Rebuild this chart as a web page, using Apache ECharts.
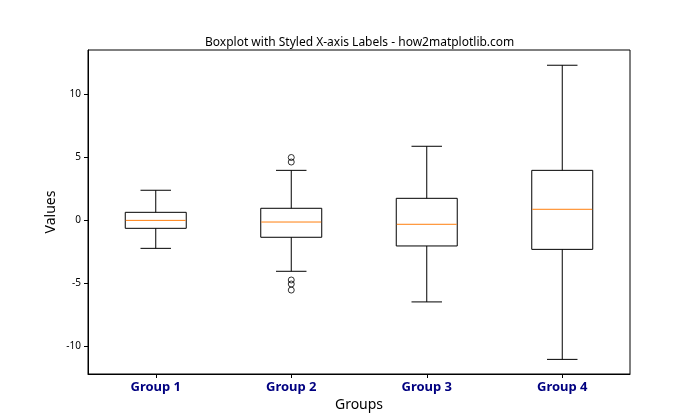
<!DOCTYPE html>
<html>
<head>
<meta charset="utf-8">
<script src="https://cdn.jsdelivr.net/npm/echarts@6/dist/echarts.min.js"></script>
<style>html,body{margin:0;padding:0;background:#fff}#c{width:700px;height:420px}</style>
</head>
<body>
<div id="c"></div>
<script>
var categories = ['Group 1', 'Group 2', 'Group 3', 'Group 4'];
// [whiskerLow, Q1, median, Q3, whiskerHigh]
var boxStats = [
  [-2.25, -0.66, -0.03, 0.61, 2.36],
  [-4.07, -1.37, -0.16, 0.93, 3.94],
  [-6.50, -2.06, -0.34, 1.72, 5.85],
  [-11.06, -2.33, 0.85, 3.94, 12.28]
];
var outliers = [
  ['Group 2', 4.96], ['Group 2', 4.60],
  ['Group 2', -4.76], ['Group 2', -5.08], ['Group 2', -5.56]
];
var yTicks = [-10, -5, 0, 5, 10];
var yMin = -12.22, yMax = 13.49;

var FONT = 'Noto Sans';
var chart = echarts.init(document.getElementById('c'), null, {renderer: 'canvas'});

var boxData = boxStats.map(function (s, i) { return [i].concat(s); });
var BOX_FRAC = 0.45; // box width as fraction of category band

function renderBox(params, api) {
  var idx = api.value(0);
  var lo = api.coord([idx, api.value(1)]);
  var q1 = api.coord([idx, api.value(2)]);
  var med = api.coord([idx, api.value(3)]);
  var q3 = api.coord([idx, api.value(4)]);
  var hi = api.coord([idx, api.value(5)]);
  var band = api.size([1, 0])[0];
  var w = band * BOX_FRAC;
  var cw = w / 2;
  var x = lo[0];
  var stroke = {stroke: '#000', lineWidth: 1, fill: null};
  return {
    type: 'group',
    children: [
      {type: 'line', shape: {x1: x, y1: q1[1], x2: x, y2: lo[1]}, style: stroke},
      {type: 'line', shape: {x1: x, y1: q3[1], x2: x, y2: hi[1]}, style: stroke},
      {type: 'line', shape: {x1: x - cw / 2, y1: lo[1], x2: x + cw / 2, y2: lo[1]}, style: stroke},
      {type: 'line', shape: {x1: x - cw / 2, y1: hi[1], x2: x + cw / 2, y2: hi[1]}, style: stroke},
      {type: 'rect', shape: {x: x - w / 2, y: q3[1], width: w, height: q1[1] - q3[1]}, style: {stroke: '#000', lineWidth: 1, fill: 'rgba(0,0,0,0)'}},
      {type: 'line', shape: {x1: x - w / 2 + 0.5, y1: med[1], x2: x + w / 2 - 0.5, y2: med[1]}, style: {stroke: '#ff7f0e', lineWidth: 1}}
    ]
  };
}

chart.setOption({
  animation: false,
  backgroundColor: '#fff',
  title: {
    text: 'Boxplot with Styled X-axis Labels - how2matplotlib.com',
    left: 200, top: 32,
    textStyle: {fontFamily: FONT, fontSize: 12, fontWeight: 'normal', color: '#000'}
  },
  grid: {left: 88, right: 70, top: 50, bottom: 46, show: true, borderColor: '#000', borderWidth: 1, backgroundColor: 'transparent'},
  xAxis: {
    type: 'category',
    data: categories,
    boundaryGap: true,
    name: 'Groups',
    nameLocation: 'middle',
    nameGap: 24,
    nameMoveOverlap: false,
    nameTextStyle: {fontFamily: FONT, fontSize: 14, color: '#000'},
    axisLine: {show: true, onZero: false, lineStyle: {color: '#000', width: 1}},
    axisTick: {show: true, alignWithLabel: true, length: 4, lineStyle: {color: '#000'}},
    axisLabel: {fontFamily: FONT, fontSize: 13, fontWeight: 'bold', color: '#000080', margin: 7},
    splitLine: {show: false}
  },
  yAxis: {
    type: 'value',
    min: yMin, max: yMax,
    name: 'Values',
    nameLocation: 'middle',
    nameGap: 30,
    nameMoveOverlap: false,
    nameTextStyle: {fontFamily: FONT, fontSize: 14, color: '#000'},
    axisLine: {show: true, onZero: false, lineStyle: {color: '#000', width: 1}},
    axisTick: {show: true, length: 4, lineStyle: {color: '#000'}, customValues: yTicks},
    axisLabel: {fontFamily: FONT, fontSize: 10, color: '#000', margin: 7, customValues: yTicks},
    splitLine: {show: false}
  },
  series: [
    {
      type: 'custom',
      renderItem: renderBox,
      data: boxData,
      encode: {x: 0, y: [1, 2, 3, 4, 5]},
      z: 2
    },
    {
      type: 'scatter',
      data: outliers,
      symbol: 'circle',
      symbolSize: 6,
      itemStyle: {color: 'rgba(255,255,255,0)', borderColor: '#000', borderWidth: 1},
      z: 3
    }
  ]
});
</script>
</body>
</html>
